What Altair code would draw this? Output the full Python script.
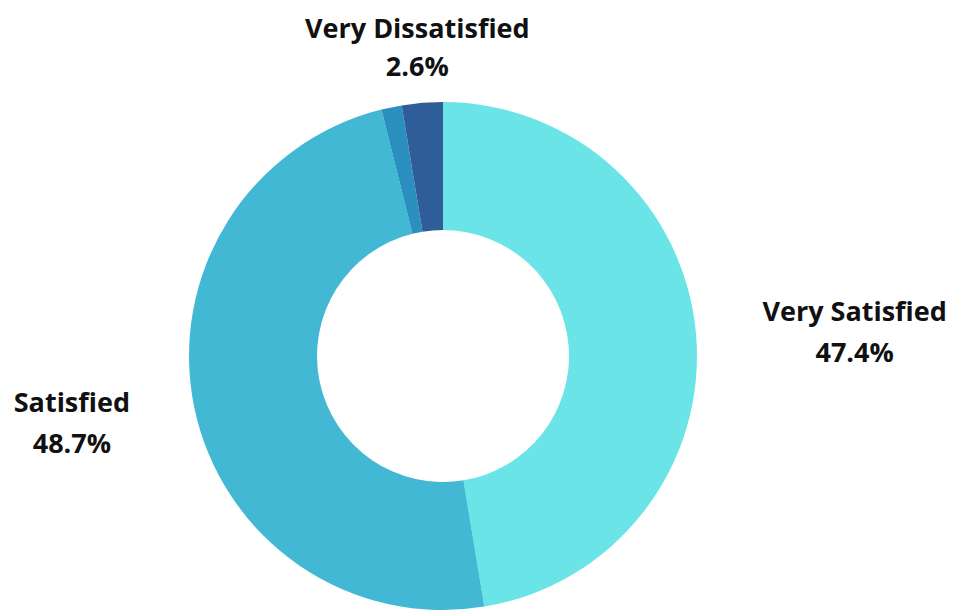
import math
import altair as alt
import pandas as pd

categories = ["Very Satisfied", "Satisfied", "Dissatisfied", "Very Dissatisfied"]
shares = [47.4, 48.7, 1.3, 2.6]
colors = ["#6BE4E8", "#42B8D5", "#2B90BF", "#2E5D98"]
labelled = ["Very Satisfied", "Satisfied", "Very Dissatisfied"]
label_radius = {"Very Satisfied": 413, "Satisfied": 379, "Very Dissatisfied": 315}
label_dy = {"Very Satisfied": -9, "Satisfied": -29, "Very Dissatisfied": -12}
label_lh = {"Very Satisfied": 41, "Satisfied": 41, "Very Dissatisfied": 38}

df = pd.DataFrame({"category": categories, "share": shares, "order": list(range(len(categories)))})

CX, CY = 435, 348
theta_scale = alt.Scale(domain=[0, 100], range=[0, 2 * math.pi])

base = alt.Chart(df).transform_window(
    end="sum(share)", sort=[alt.SortField("order")], frame=[None, 0]
).transform_calculate(
    start="datum.end - datum.share",
    mid="datum.end - datum.share / 2",
    label="[datum.category, format(datum.share, '.1f') + '%']",
)

arcs = base.mark_arc(innerRadius=126, outerRadius=254).encode(
    theta=alt.Theta("start:Q", scale=theta_scale),
    theta2="end:Q",
    color=alt.Color("category:N", scale=alt.Scale(domain=categories, range=colors), legend=None),
    x=alt.value(CX),
    y=alt.value(CY),
)

layers = [arcs]
for cat in labelled:
    layers.append(
        base.transform_filter(alt.datum.category == cat).mark_text(
            font="Open Sans", fontSize=27, fontWeight="bold", color="#111111",
            lineHeight=label_lh[cat], align="center", baseline="middle",
            radius=label_radius[cat], dy=label_dy[cat],
        ).encode(
            theta=alt.Theta("mid:Q", scale=theta_scale),
            text=alt.Text("label:N"),
            x=alt.value(CX),
            y=alt.value(CY),
        )
    )

chart = alt.layer(*layers).properties(
    width=938, height=602, autosize=alt.AutoSizeParams(type="none"), padding=0
).configure_view(stroke=None)

chart.save("out.html", embed_options={"renderer": "svg", "actions": False})
